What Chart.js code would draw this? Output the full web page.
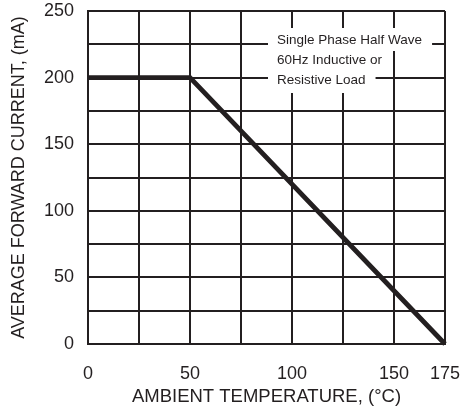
<!DOCTYPE html>
<html>
<head>
<meta charset="utf-8">
<script src="https://cdn.jsdelivr.net/npm/chart.js@4/dist/chart.umd.min.js"></script>
<style>
  html, body { margin: 0; padding: 0; background: #fff; }
  #wrap { width: 464px; height: 410px; }
</style>
</head>
<body>
<div id="wrap"><canvas id="myChart"></canvas></div>
<script>
// derating curve
var temps = [0, 50, 175];
var current = [200, 200, 0];
var xTickLabels = [0, 50, 100, 150, 175];
var yTickLabels = [0, 50, 100, 150, 200, 250];
var noteLines = ['Single Phase Half Wave', '60Hz Inductive or', 'Resistive Load'];

var ink = '#231f20';

// white-backed text block in the upper right
var notePlugin = {
    id: 'note',
    afterDatasetsDraw: function(chart) {
        var ctx = chart.ctx;
        var x = 277, y = 40, lh = 20;
        ctx.save();
        ctx.font = '13.5px "Liberation Sans", Arial, sans-serif';
        ctx.textBaseline = 'middle';
        noteLines.forEach(function(txt, i) {
            var w = ctx.measureText(txt).width;
            var top = y + i * lh - 11;
            var h = lh + 2;
            if (i == 0) { top -= 1; h += 1; }
            if (i == noteLines.length - 1) h += 2;
            ctx.fillStyle = '#fff';
            ctx.fillRect(x - 9, top, w + 19, h);
        });
        ctx.fillStyle = ink;
        noteLines.forEach(function(txt, i) {
            ctx.fillText(txt, x, y + i * lh);
        });
        ctx.restore();
    }
};

window.addEventListener('load', function() {
    var ctx = document.getElementById('myChart').getContext('2d');
    new Chart(ctx, {
        type: 'line',
        data: {
            datasets: [{
                data: temps.map(function(t, i) { return {x: t, y: current[i]}; }),
                borderColor: ink,
                borderWidth: 4.8,
                pointRadius: 0,
                tension: 0,
                fill: false,
                clip: false
            }]
        },
        plugins: [notePlugin],
        options: {
            responsive: true,
            maintainAspectRatio: false,
            animation: false,
            layout: { padding: { top: 11, right: 19, left: 0, bottom: 0 } },
            plugins: {
                legend: { display: false },
                tooltip: { enabled: false }
            },
            scales: {
                x: {
                    type: 'linear',
                    min: 0,
                    max: 175,
                    afterFit: function(s) { s.height = 66; s.paddingLeft = 0; s.paddingRight = 0; },
                    grid: { color: ink, lineWidth: 2, drawTicks: false },
                    border: { color: ink, width: 2 },
                    ticks: {
                        stepSize: 25,
                        autoSkip: false,
                        maxRotation: 0,
                        padding: 19,
                        color: ink,
                        font: { family: '"Liberation Sans", Arial, sans-serif', size: 18 },
                        callback: function(v) { return xTickLabels.indexOf(v) >= 0 ? String(v) : ''; }
                    },
                    title: {
                        display: true,
                        text: 'AMBIENT TEMPERATURE, (°C)',
                        color: ink,
                        padding: { top: 0, bottom: 2 },
                        font: { family: '"Liberation Sans", Arial, sans-serif', size: 18.5 }
                    }
                },
                y: {
                    min: 0,
                    max: 250,
                    afterFit: function(s) { s.width = 88; s.paddingTop = 0; s.paddingBottom = 0; },
                    grid: { color: ink, lineWidth: 2, drawTicks: false },
                    border: { color: ink, width: 2 },
                    ticks: {
                        stepSize: 25,
                        autoSkip: false,
                        padding: 14,
                        color: ink,
                        font: { family: '"Liberation Sans", Arial, sans-serif', size: 18 },
                        callback: function(v) { return yTickLabels.indexOf(v) >= 0 ? String(v) : ''; }
                    },
                    title: {
                        display: true,
                        text: 'AVERAGE FORWARD CURRENT, (mA)',
                        color: ink,
                        padding: { top: 8, bottom: 0 },
                        font: { family: '"Liberation Sans", Arial, sans-serif', size: 18 }
                    }
                }
            }
        }
    });
});
</script>
</body>
</html>
